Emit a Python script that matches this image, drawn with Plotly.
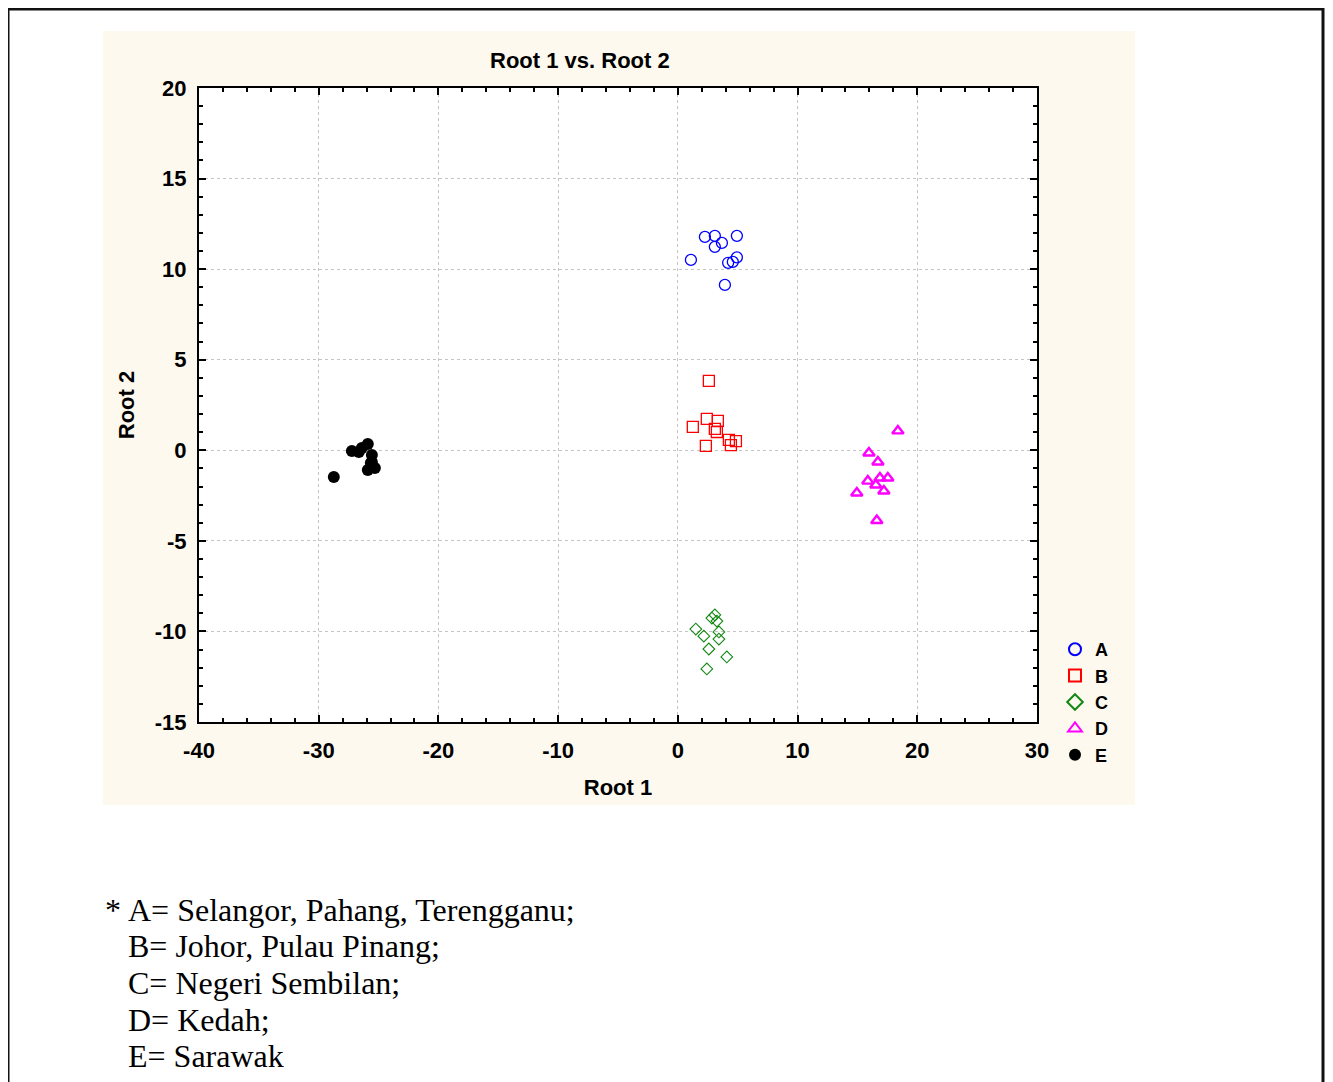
import plotly.graph_objects as go

# ---- data (Root 1, Root 2) per group ----
groups = ["A", "B", "C", "D", "E"]
a_root1 = [1.09, 2.26, 3.09, 3.09, 3.68, 4.93, 4.20, 4.59, 4.93, 3.93]
a_root2 = [10.51, 11.78, 11.84, 11.23, 11.45, 11.84, 10.35, 10.40, 10.65, 9.13]
b_root1 = [2.59, 2.42, 3.34, 1.25, 3.09, 3.26, 4.26, 4.85, 4.43, 2.34]
b_root2 = [3.83, 1.73, 1.62, 1.29, 1.18, 1.01, 0.57, 0.51, 0.29, 0.24]
c_root1 = [3.09, 2.84, 3.26, 1.50, 2.17, 3.43, 3.43, 2.59, 4.09, 2.42]
c_root2 = [-9.09, -9.26, -9.43, -9.87, -10.26, -10.03, -10.42, -10.97, -11.41, -12.07]
d_root1 = [18.38, 15.96, 16.71, 15.87, 16.88, 17.54, 16.54, 17.21, 14.95, 16.62]
d_root2 = [1.07, -0.15, -0.65, -1.70, -1.53, -1.53, -1.92, -2.25, -2.36, -3.88]
e_root1 = [-28.74, -27.23, -26.65, -26.40, -25.90, -25.56, -25.56, -25.90, -25.31, -25.65]
e_root2 = [-1.47, -0.04, -0.09, 0.13, 0.35, -0.26, -0.65, -1.09, -0.98, -0.70]

x_ticks = [-40, -30, -20, -10, 0, 10, 20, 30]
y_ticks = [-15, -10, -5, 0, 5, 10, 15, 20]
x_ticktext = [str(v) for v in x_ticks]
y_ticktext = [str(v) for v in y_ticks]

footnote = [
    "A= Selangor, Pahang, Terengganu;",
    "B= Johor, Pulau Pinang;",
    "C= Negeri Sembilan;",
    "D= Kedah;",
    "E= Sarawak",
]

OFF = 8                      # page body margin
W, H = 1333 - 2 * OFF, 1082 - OFF
PL, PR, PT, PB = 199 - OFF, 1037 - OFF, 88 - OFF, 722 - OFF  # plot area (figure px)


def px(x):
    return (x - OFF - PL) / (PR - PL)


def py(y):
    return (PB - (y - OFF)) / (PB - PT)


series = [
    (a_root1, a_root2, dict(symbol="circle-open", color="#0000FF", size=11, line=dict(width=1.3))),
    (b_root1, b_root2, dict(symbol="square-open", color="#FF0000", size=11, line=dict(width=1.3))),
    (c_root1, c_root2, dict(symbol="diamond-open", color="#118811", size=9, line=dict(width=1.1))),
    (d_root1, d_root2, dict(symbol="triangle-up-open", color="#FF00FF", size=10, line=dict(width=2.4))),
    (e_root1, e_root2, dict(symbol="circle", color="#000000", size=12, line=dict(width=0))),
]

fig = go.Figure()
for name, (xs, ys, mk) in zip(groups, series):
    fig.add_trace(go.Scatter(x=xs, y=ys, mode="markers", name=name, marker=mk, cliponaxis=False))

LAB = dict(family="Liberation Sans, Arial", size=22, color="black", weight="bold")
axis_common = dict(
    showline=True, linecolor="black", linewidth=2, mirror="ticks",
    ticks="inside", ticklen=7, tickwidth=1.5, tickcolor="black",
    showgrid=True, gridcolor="#C4C4C4", griddash="dot", gridwidth=1,
    zeroline=False, tickfont=LAB, title_font=LAB,
)

fig.update_xaxes(range=[-40, 30], tickvals=x_ticks, ticktext=x_ticktext,
                 minor=dict(dtick=2, ticks="inside", ticklen=4, tickcolor="black", showgrid=False),
                 ticklabelstandoff=8,
                 title_text="Root 1", title_standoff=17, **axis_common)
fig.update_yaxes(range=[-15, 20], tickvals=y_ticks, ticktext=y_ticktext,
                 minor=dict(dtick=1, ticks="inside", ticklen=4, tickcolor="black", showgrid=False),
                 ticklabelstandoff=6,
                 title_text="Root 2", title_standoff=14, **axis_common)

shapes = [
    # cream panel
    dict(type="rect", xref="paper", yref="paper", layer="below",
         x0=px(103), x1=px(1135), y0=py(805), y1=py(31),
         fillcolor="#FDF9EE", line=dict(width=0)),
    # white plot area
    dict(type="rect", xref="paper", yref="paper", layer="below",
         x0=0, x1=1, y0=0, y1=1, fillcolor="white", line=dict(width=0)),
    # outer border
    dict(type="rect", xref="paper", yref="paper", layer="below",
         x0=px(8), x1=px(1323), y0=py(1095), y1=py(9),
         fillcolor="rgba(0,0,0,0)", line=dict(color="#111111", width=3)),
]

annotations = [
    dict(text="Root 1 vs. Root 2", xref="paper", yref="paper", x=px(488), y=py(60),
         xanchor="left", yanchor="middle", showarrow=False, font=LAB),
    dict(text="*", xref="paper", yref="paper", x=px(103), y=py(910),
         xanchor="left", yanchor="middle", showarrow=False,
         font=dict(family="Liberation Serif, Times New Roman", size=32, color="black")),
]
line_y = [910, 946, 983, 1020, 1056]
for t, yy in zip(footnote, line_y):
    annotations.append(dict(text=t, xref="paper", yref="paper", x=px(126), y=py(yy),
                            xanchor="left", yanchor="middle", showarrow=False,
                            font=dict(family="Liberation Serif, Times New Roman", size=32, color="black")))

fig.update_layout(
    width=W, height=H,
    margin=dict(l=PL, r=W - PR, t=PT, b=H - PB, pad=0),
    paper_bgcolor="white", plot_bgcolor="white",
    shapes=shapes, annotations=annotations,
    showlegend=True,
    legend=dict(x=px(1055), y=py(631), xanchor="left", yanchor="top",
                bgcolor="rgba(0,0,0,0)", borderwidth=0, tracegroupgap=0,
                itemsizing="constant",
                font=dict(family="Liberation Sans, Arial", size=18, color="black", weight="bold")),
)

fig.write_html("out.html")
